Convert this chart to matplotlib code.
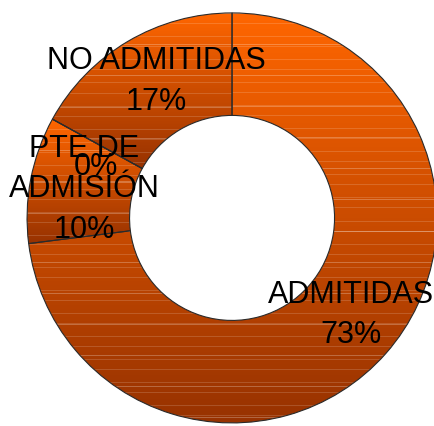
import numpy as np
import matplotlib.pyplot as plt
from matplotlib.colors import to_rgb

categories = ['ADMITIDAS', 'PTE DE\nADMISIÓN', '', 'NO ADMITIDAS']
values = [73, 10, 0, 17]
pct_labels = ['73%', '10%', '0%', '17%']

# label placement (data coords, pie radius = 1)
label_pos = [(0.58, -0.475), (-0.72, 0.14), (-0.665, 0.25), (-0.37, 0.665)]

top_col = np.array(to_rgb('#FF6600'))
bot_col = np.array(to_rgb('#973200'))

fig = plt.figure(figsize=(4.35, 4.26), dpi=100)
ax = fig.add_axes([0, 0, 1, 1])

wedges, _ = ax.pie(values, startangle=90, counterclock=False, radius=1.0,
                   wedgeprops=dict(width=0.5, edgecolor='#2a2a2a', linewidth=0.8))


def gradient_image(nrows):
    t = np.linspace(0, 1, nrows)[:, None]
    img = top_col[None, :] * (1 - t) + bot_col[None, :] * t
    # light horizontal streaks like the original fill
    idx = np.arange(nrows)
    light = np.where((idx * 7) % 23 < 2, 0.15, 0.0)
    light += np.where((idx * 5) % 31 == 0, 0.25, 0.0)
    img = img + (1 - img) * light[:, None]
    return np.clip(img[:, None, :], 0, 1)


for w, v in zip(wedges, values):
    if v == 0:
        continue
    ext = w.get_path().get_extents()
    nrows = max(int((ext.y1 - ext.y0) * 205), 2)
    w.set_facecolor('none')
    im = ax.imshow(gradient_image(nrows), extent=(ext.x0, ext.x1, ext.y0, ext.y1),
                   aspect='auto', interpolation='nearest', zorder=0.5)
    im.set_clip_path(w)

font = dict(family=['Liberation Sans', 'DejaVu Sans'], fontsize=22, color='black')
for cat, pct, (x, y) in zip(categories, pct_labels, label_pos):
    txt = f'{cat}\n{pct}' if cat else pct
    ax.text(x, y, txt, ha='center', va='center', linespacing=1.45, zorder=5, **font)

ax.set_xlim(-1.132, 0.990)
ax.set_ylim(-1.015, 1.063)
ax.set_aspect('equal')
ax.axis('off')

fig.savefig('out.png', dpi=100)
